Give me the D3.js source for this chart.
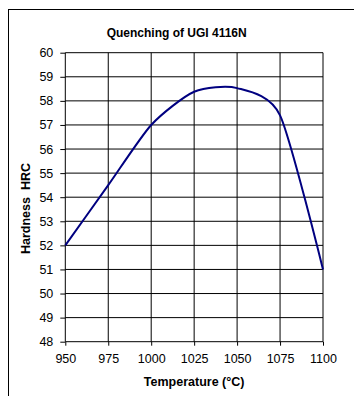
<!DOCTYPE html>
<html>
<head>
<meta charset="utf-8">
<script src="https://cdn.jsdelivr.net/npm/d3@7"></script>
<style>
  body { margin: 0; background: #fff; }
  text { font-family: "Liberation Sans", Arial, sans-serif; fill: #000; }
</style>
</head>
<body>
<div id="chart"></div>
<script>
// data
const temps = [950, 975, 1000, 1025, 1050, 1075, 1100];
const hardness = [52, 54.5, 57, 58.38, 58.53, 57.4, 51];
const xTicks = [950, 975, 1000, 1025, 1050, 1075, 1100];
const yTicks = [48, 49, 50, 51, 52, 53, 54, 55, 56, 57, 58, 59, 60];

const width = 354, height = 396;
const margin = {top: 52.7, right: 31, bottom: 54.3, left: 65.3};

const svg = d3.select("#chart").append("svg")
  .attr("width", width)
  .attr("height", height);

// outer frame (right/bottom edges fall outside the picture)
svg.append("rect")
  .attr("x", 8.5).attr("y", 9.5)
  .attr("width", 400).attr("height", 420)
  .attr("fill", "none")
  .attr("stroke", "#000")
  .attr("stroke-width", 1);

const x = d3.scaleLinear().domain([950, 1100]).range([margin.left, width - margin.right]);
const y = d3.scaleLinear().domain([48, 60]).range([height - margin.bottom, margin.top]);

// grid
svg.append("g").selectAll("line").data(xTicks).enter().append("line")
  .attr("x1", d => x(d)).attr("x2", d => x(d))
  .attr("y1", y(60)).attr("y2", y(48))
  .attr("stroke", "#000").attr("stroke-width", 1);

svg.append("g").selectAll("line").data(yTicks).enter().append("line")
  .attr("x1", x(950)).attr("x2", x(1100))
  .attr("y1", d => y(d)).attr("y2", d => y(d))
  .attr("stroke", "#000").attr("stroke-width", 1);

// axes
const xAxis = svg.append("g")
  .attr("transform", `translate(0,${y(48)})`)
  .call(d3.axisBottom(x).tickValues(xTicks).tickFormat(d3.format("d"))
    .tickSizeOuter(0).tickSize(4).tickPadding(8));
const yAxis = svg.append("g")
  .attr("transform", `translate(${x(950)},0)`)
  .call(d3.axisLeft(y).tickValues(yTicks).tickFormat(d3.format("d"))
    .tickSizeOuter(0).tickSize(5).tickPadding(7));

[xAxis, yAxis].forEach(a => {
  a.selectAll("text").style("font-size", "12.5px").attr("fill", "#000");
  a.selectAll("line, path").attr("stroke", "#000");
  a.select(".domain").remove();
});

// smoothed curve
const line = d3.line()
  .x((d, i) => x(temps[i]))
  .y(d => y(d))
  .curve(d3.curveCardinal.tension(0.3));

svg.append("path")
  .datum(hardness)
  .attr("d", line)
  .attr("fill", "none")
  .attr("stroke", "#000080")
  .attr("stroke-width", 2);

// titles
svg.append("text")
  .attr("x", 176.7).attr("y", 36.5)
  .attr("text-anchor", "middle")
  .style("font-size", "12px").style("font-weight", "bold")
  .text("Quenching of UGI 4116N");

svg.append("text")
  .attr("x", (x(950) + x(1100)) / 2).attr("y", 386)
  .attr("text-anchor", "middle")
  .style("font-size", "12.5px").style("font-weight", "bold")
  .text("Temperature (°C)");

svg.append("text")
  .attr("transform", "translate(30,208.5) rotate(-90)")
  .attr("text-anchor", "middle")
  .style("font-size", "12.5px").style("font-weight", "bold")
  .style("white-space", "pre")
  .text("Hardness  HRC");
</script>
</body>
</html>
